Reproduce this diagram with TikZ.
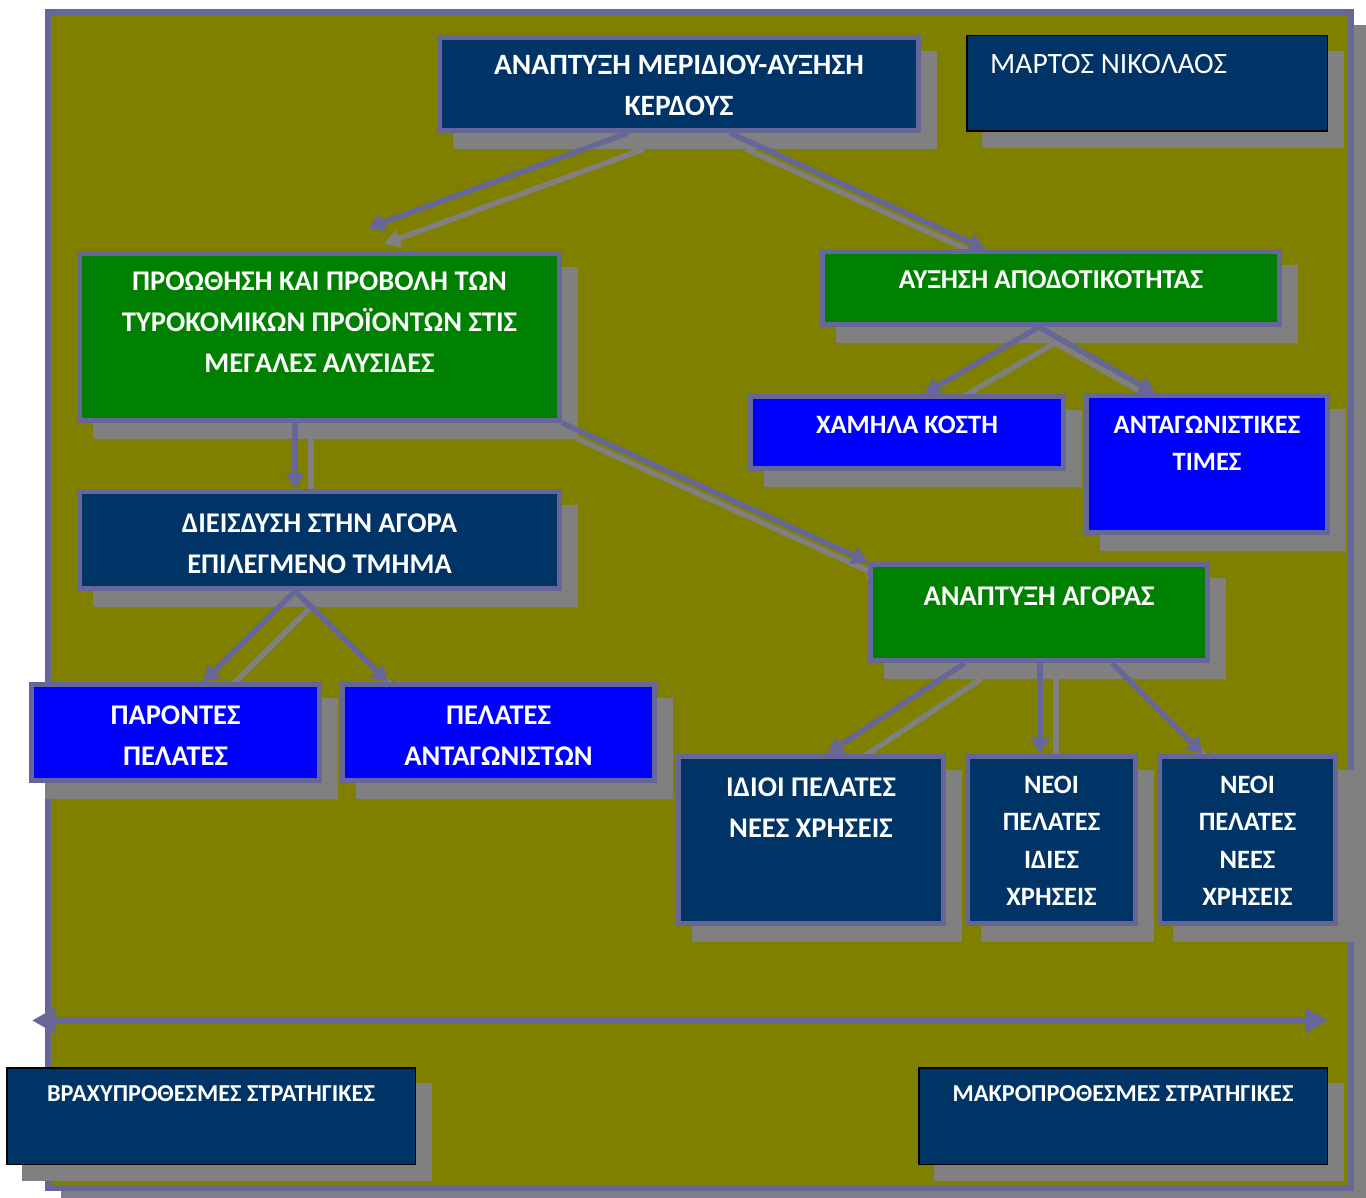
\documentclass[tikz,border=0pt]{standalone}
\usepackage{fontspec}
\setmainfont{Carlito}
\usetikzlibrary{arrows.meta,calc}

\definecolor{rim}{HTML}{666699}
\definecolor{field}{HTML}{808000}
\definecolor{shadowgrey}{HTML}{808080}
\definecolor{navy}{HTML}{003366}
\definecolor{leaf}{HTML}{008000}
\definecolor{royal}{HTML}{0000FF}

\pgfdeclarelayer{groundlayer}
\pgfdeclarelayer{framelayer}
\pgfdeclarelayer{shadelayer}
\pgfdeclarelayer{linklayer}
\pgfsetlayers{groundlayer,framelayer,shadelayer,linklayer,main}

% centred lines whose baseline is the first line's baseline
\newcommand\boxlines[1]{\begin{tabular}[t]{@{}c@{}}#1\end{tabular}}

\tikzset{
  panel/.style={rectangle, draw=rim, line width=5pt, inner sep=0pt, anchor=north west},
  plain/.style={rectangle, draw=black, line width=1.5pt, fill=navy, inner sep=0pt, anchor=north west},
  navybox/.style={panel, fill=navy},
  greenbox/.style={panel, fill=leaf},
  bluebox/.style={panel, fill=royal},
  caption/.style={text=white, inner sep=0pt, anchor=base, font=\bfseries\fontsize{28.5}{41}\selectfont},
  smallcaption/.style={caption, font=\bfseries\fontsize{26.5}{37.5}\selectfont},
  footcaption/.style={caption, font=\bfseries\fontsize{24.3}{30}\selectfont},
  boxshadow/.style={fill=shadowgrey},
  link/.style={draw=rim, line width=5.5pt, -{Triangle[length=16pt,width=18pt]}},
  linkshade/.style={draw=shadowgrey, line width=5.5pt, -{Triangle[length=16pt,width=18pt]},
    transform canvas={shift={(16pt,-16pt)}}},
  span/.style={draw=rim, line width=7pt,
    {Triangle[length=23pt,width=24pt]}-{Triangle[length=23pt,width=24pt]}},
}

\begin{document}
\begin{tikzpicture}[x=1pt,y=-1pt]
\useasboundingbox (0,0) rectangle (1366,1198);

% olive field with its frame
\begin{pgfonlayer}{framelayer}
  \node[panel, line width=6pt, fill=field, minimum width=1303pt, minimum height=1176pt] (frame) at (45,9) {};
\end{pgfonlayer}
\begin{pgfonlayer}{groundlayer}
  \path[boxshadow] ([shift={(16pt,-16pt)}]frame.south west) rectangle ([shift={(16pt,-16pt)}]frame.north east);
\end{pgfonlayer}

% boxes
\node[navybox, minimum width=479pt, minimum height=93pt] (goal) at (437,35) {};
\node[plain, minimum width=360.5pt, minimum height=95.5pt] (author) at (966,35) {};
\node[greenbox, minimum width=480pt, minimum height=167pt] (promo) at (77,251) {};
\node[greenbox, minimum width=457pt, minimum height=73pt] (yield) at (820,249) {};
\node[bluebox, minimum width=313pt, minimum height=72pt] (cost) at (748,394) {};
\node[bluebox, minimum width=241pt, minimum height=137pt] (price) at (1084,393) {};
\node[navybox, minimum width=480pt, minimum height=97pt] (pen) at (77,489) {};
\node[greenbox, minimum width=337pt, minimum height=96pt] (grow) at (868,562) {};
\node[bluebox, minimum width=288pt, minimum height=96pt] (cur) at (29,682) {};
\node[bluebox, minimum width=312pt, minimum height=96pt] (rival) at (340,682) {};
\node[navybox, minimum width=265pt, minimum height=167pt] (same) at (676,754) {};
\node[navybox, minimum width=168pt, minimum height=167pt] (newsame) at (965,754) {};
\node[navybox, minimum width=176pt, minimum height=167pt] (newnew) at (1157,754) {};
\node[plain, minimum width=408.5pt, minimum height=96.5pt] (short) at (6,1067) {};
\node[plain, minimum width=408.5pt, minimum height=96.5pt] (long) at (918,1067) {};

% box texts
\node[caption, font=\bfseries\fontsize{29.5}{41}\selectfont] (goal-t) at ([yshift=-40pt]goal.north) {\boxlines{ΑΝΑΠΤΥΞΗ ΜΕΡΙΔΙΟΥ-ΑΥΞΗΣΗ\\ΚΕΡΔΟΥΣ}};
\node[text=white, inner sep=0pt, anchor=base west, font=\fontsize{29.5}{34}\selectfont] (author-t) at (990,74) {ΜΑΡΤΟΣ ΝΙΚΟΛΑΟΣ};
\node[caption] (promo-t) at ([yshift=-40pt]promo.north) {\boxlines{ΠΡΟΩΘΗΣΗ ΚΑΙ ΠΡΟΒΟΛΗ ΤΩΝ\\ΤΥΡΟΚΟΜΙΚΩΝ ΠΡΟΪΟΝΤΩΝ ΣΤΙΣ\\ΜΕΓΑΛΕΣ ΑΛΥΣΙΔΕΣ}};
\node[caption, font=\bfseries\fontsize{27.3}{41}\selectfont] (yield-t) at ([yshift=-40pt]yield.north) {ΑΥΞΗΣΗ ΑΠΟΔΟΤΙΚΟΤΗΤΑΣ};
\node[smallcaption] (cost-t) at ([yshift=-39pt]cost.north) {ΧΑΜΗΛΑ ΚΟΣΤΗ};
\node[smallcaption] (price-t) at ([yshift=-40pt]price.north) {\boxlines{ΑΝΤΑΓΩΝΙΣΤΙΚΕΣ\\ΤΙΜΕΣ}};
\node[caption] (pen-t) at ([yshift=-43pt]pen.north) {\boxlines{ΔΙΕΙΣΔΥΣΗ ΣΤΗΝ ΑΓΟΡΑ\\ΕΠΙΛΕΓΜΕΝΟ ΤΜΗΜΑ}};
\node[caption] (grow-t) at ([yshift=-43pt]grow.north) {ΑΝΑΠΤΥΞΗ ΑΓΟΡΑΣ};
\node[caption] (cur-t) at ([yshift=-42pt]cur.north) {\boxlines{ΠΑΡΟΝΤΕΣ\\ΠΕΛΑΤΕΣ}};
\node[caption] (rival-t) at ([yshift=-42pt]rival.north) {\boxlines{ΠΕΛΑΤΕΣ\\ΑΝΤΑΓΩΝΙΣΤΩΝ}};
\node[caption] (same-t) at ([yshift=-42pt]same.north) {\boxlines{ΙΔΙΟΙ ΠΕΛΑΤΕΣ\\ΝΕΕΣ ΧΡΗΣΕΙΣ}};
\node[smallcaption] (newsame-t) at ([yshift=-39pt]newsame.north) {\boxlines{ΝΕΟΙ\\ΠΕΛΑΤΕΣ\\ΙΔΙΕΣ\\ΧΡΗΣΕΙΣ}};
\node[smallcaption] (newnew-t) at ([yshift=-39pt]newnew.north) {\boxlines{ΝΕΟΙ\\ΠΕΛΑΤΕΣ\\ΝΕΕΣ\\ΧΡΗΣΕΙΣ}};
\node[footcaption] (short-t) at ([yshift=-34pt]short.north) {ΒΡΑΧΥΠΡΟΘΕΣΜΕΣ ΣΤΡΑΤΗΓΙΚΕΣ};
\node[footcaption] (long-t) at ([yshift=-34pt]long.north) {ΜΑΚΡΟΠΡΟΘΕΣΜΕΣ ΣΤΡΑΤΗΓΙΚΕΣ};

% drop shadows of the boxes
\begin{pgfonlayer}{shadelayer}
  \foreach \n in {goal,author,promo,yield,cost,price,pen,grow,cur,rival,same,newsame,newnew,short,long}
    \path[boxshadow] ([shift={(16pt,-16pt)}]\n.south west) rectangle ([shift={(16pt,-16pt)}]\n.north east);
\end{pgfonlayer}

% connectors, each with its shadow
\begin{pgfonlayer}{linklayer}
  \foreach \s in {linkshade,link} {
    \draw[\s] ([xshift=191pt]goal.south west) -- ([xshift=291pt,yshift=23pt]promo.north west);
    \draw[\s] ([xshift=293pt]goal.south west) -- ([xshift=165pt]yield.north west);
    \draw[\s] ([xshift=219pt]yield.south west) -- ([xshift=176pt]cost.north west);
    \draw[\s] ([xshift=219pt]yield.south west) -- ([xshift=71pt]price.north west);
    \draw[\s] ([xshift=218pt]promo.south west) -- ([xshift=218pt]pen.north west);
    \draw[\s] (promo.south east) -- (grow.north west);
    \draw[\s] ([xshift=218pt]pen.south west) -- ([xshift=174pt]cur.north west);
    \draw[\s] ([xshift=218pt]pen.south west) -- ([xshift=48pt]rival.north west);
    \draw[\s] ([xshift=97pt]grow.south west) -- ([xshift=151pt]same.north west);
    \draw[\s] ([xshift=172pt]grow.south west) -- ([xshift=75pt]newsame.north west);
    \draw[\s] ([xshift=244pt]grow.south west) -- ([xshift=46pt]newnew.north west);
  }
  % time axis from short to long term
  \coordinate (axisL) at (32,1020.5);
  \coordinate (axisR) at (1328,1020.5);
  \draw[span] (axisL) -- (axisR);
\end{pgfonlayer}
\end{tikzpicture}
\end{document}
